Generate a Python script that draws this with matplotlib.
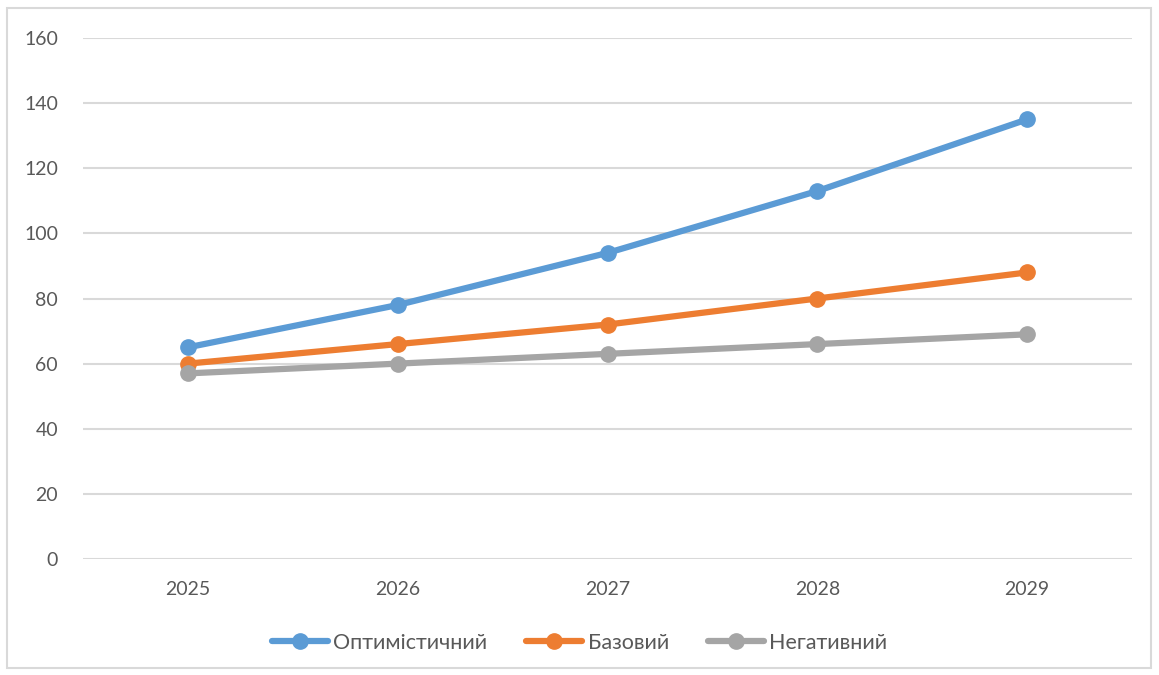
import matplotlib
matplotlib.use("Agg")
import matplotlib.pyplot as plt
from matplotlib.patches import Rectangle

years = ["2025", "2026", "2027", "2028", "2029"]
optimistic = [65, 78, 94, 113, 135]
base = [60, 66, 72, 80, 88]
negative = [57, 60, 63, 66, 69]
series_names = ["Оптимістичний", "Базовий", "Негативний"]
colors = ["#5B9BD5", "#ED7D31", "#A5A5A5"]

plt.rcParams['font.family'] = ['Lato', 'DejaVu Sans']

fig = plt.figure(figsize=(11.59, 6.75), dpi=100)
fig.patches.append(Rectangle((7/1159, 1-668/675), (1151-7)/1159, (668-8)/675,
                             transform=fig.transFigure, fill=False,
                             edgecolor="#D9D9D9", linewidth=1.5))
ax = fig.add_axes([83/1159, 1-559/675, (1132-83)/1159, (559-38)/675])

x = list(range(len(years)))
for vals, name, c in zip([optimistic, base, negative], series_names, colors):
    ax.plot(x, vals, color=c, linewidth=4.5, marker='o', markersize=11,
            label=name, solid_capstyle='round')

ax.set_xlim(-0.5, len(years) - 0.5)
ax.set_ylim(0, 160)
ax.set_yticks(range(0, 161, 20))
ax.set_xticks(x)
ax.set_xticklabels(years)
ax.grid(axis='y', color="#D9D9D9", linewidth=1.5)
ax.set_axisbelow(True)
for s in ax.spines.values():
    s.set_visible(False)
ax.tick_params(axis='both', length=0, labelsize=14, labelcolor="#595959")
ax.tick_params(axis='y', pad=18)
ax.tick_params(axis='x', pad=16)

leg = fig.legend(loc='center', bbox_to_anchor=(0.5, 1-643/675), ncol=3,
                 frameon=False, fontsize=15.5, handlelength=2.6,
                 columnspacing=1.8, handletextpad=0.25)
for t in leg.get_texts():
    t.set_color("#595959")

fig.savefig("out.png", dpi=100)
